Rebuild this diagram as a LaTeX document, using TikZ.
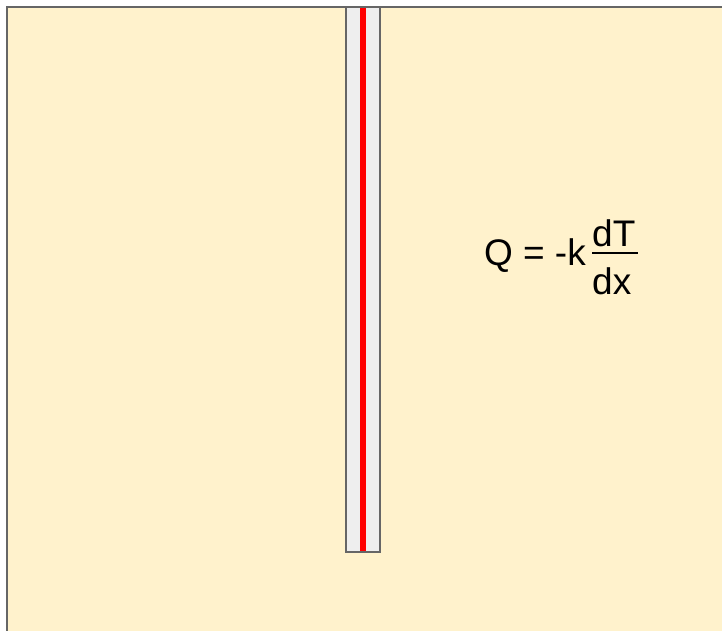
\documentclass[tikz,border=0pt]{standalone}
\usepackage{fontspec}
\setmainfont{Liberation Sans}
\usepackage{xcolor}
\definecolor{paper}{HTML}{FFF2CC}
\definecolor{edgegray}{HTML}{666666}
\definecolor{rodgray}{HTML}{EEEEEE}
\tikzset{eqtext/.style={inner sep=0pt,font=\fontsize{37}{44}\selectfont}}

\begin{document}
\begin{tikzpicture}[x=1pt,y=-1pt]
\useasboundingbox (0,0) rectangle (722,631);
% slab
\fill[paper] (7,7) rectangle (722,631);
\draw[edgegray,line width=2pt] (722,7) -- (7,7) -- (7,631);
% rod with the hot wire
\fill[rodgray] (346,7) rectangle (380,552);
\fill[red] (360,7) rectangle (366,552);
\draw[edgegray,line width=2pt] (346,7) rectangle (380,552);
% Fourier law
\node[eqtext,anchor=base east] (lhs) at (586,265) {Q = -k};
\node[eqtext,anchor=base west] (num) at (592,246.7) {dT};
\node[eqtext,anchor=base west] (den) at (592,294) {dx};
\coordinate (barL) at (592,253.3);
\coordinate (barR) at (638,253.3);
\draw[line width=2pt] (barL) -- (barR);
\end{tikzpicture}
\end{document}
